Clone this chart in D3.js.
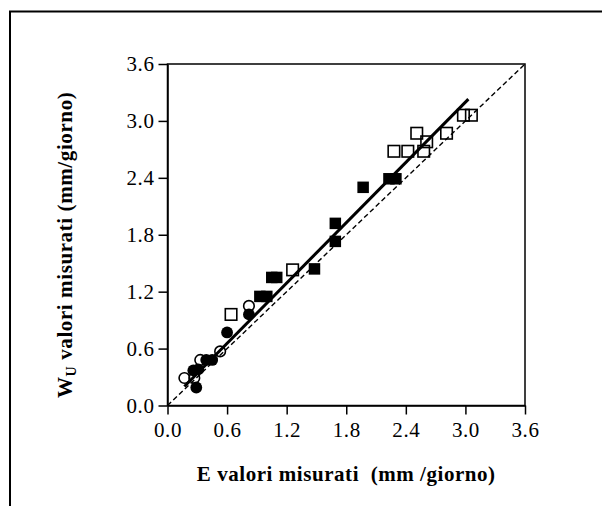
<!DOCTYPE html>
<html>
<head>
<meta charset="utf-8">
<script src="https://cdn.jsdelivr.net/npm/d3@7"></script>
<style>
  html, body { margin: 0; padding: 0; background: #fff; }
  svg { display: block; }
</style>
</head>
<body>
<svg id="chart" width="602" height="506"></svg>
<script>
// ---- data ----
const xTickValues = [0.0, 0.6, 1.2, 1.8, 2.4, 3.0, 3.6];
const yTickValues = [0.0, 0.6, 1.2, 1.8, 2.4, 3.0, 3.6];

const filledCirclesX = [0.29, 0.26, 0.31, 0.39, 0.45, 0.60, 0.82];
const filledCirclesY = [0.19, 0.37, 0.38, 0.48, 0.48, 0.77, 0.96];

const openCirclesX = [0.17, 0.27, 0.33, 0.53, 0.82];
const openCirclesY = [0.29, 0.29, 0.48, 0.57, 1.05];

const filledSquaresX = [0.93, 1.00, 1.05, 1.10, 1.48, 1.69, 1.69, 1.97, 2.23, 2.30];
const filledSquaresY = [1.15, 1.15, 1.35, 1.35, 1.44, 1.73, 1.92, 2.30, 2.39, 2.39];

const openSquaresX = [0.64, 1.26, 2.28, 2.42, 2.58, 2.61, 2.51, 2.81, 2.98, 3.06];
const openSquaresY = [0.96, 1.43, 2.68, 2.68, 2.68, 2.78, 2.87, 2.87, 3.06, 3.06];

const fitLineX = [0.17, 3.03];
const fitLineY = [0.20, 3.23];

const identityX = [0.0, 3.6];
const identityY = [0.0, 3.6];

const xTitle = "E valori misurati  (mm /giorno)";
const yTitleMain = "W";
const yTitleSub = "U";
const yTitleRest = " valori misurati (mm/giorno)";

// ---- layout ----
const svg = d3.select("#chart");
const pLeft = 167.5, pRight = 525, pTop = 64, pBottom = 405.5;
const x = d3.scaleLinear().domain([0, 3.6]).range([pLeft, pRight]);
const y = d3.scaleLinear().domain([0, 3.6]).range([pBottom, pTop]);
const font = "'Liberation Serif', 'Times New Roman', serif";

// outer frame
svg.append("path")
  .attr("d", "M10,520 V11.5 H620")
  .attr("fill", "none").attr("stroke", "#000").attr("stroke-width", 2);

// plot box
svg.append("rect")
  .attr("x", pLeft).attr("y", pTop)
  .attr("width", pRight - pLeft).attr("height", pBottom - pTop)
  .attr("fill", "none").attr("stroke", "#000").attr("stroke-width", 1.5);

// axes
const fmt = d3.format(".1f");
const xAxis = svg.append("g")
  .attr("transform", `translate(0,${pBottom})`)
  .call(d3.axisBottom(x).tickValues(xTickValues).tickFormat(fmt)
        .tickSize(9).tickSizeOuter(0).tickPadding(8));
const yAxis = svg.append("g")
  .attr("transform", `translate(${pLeft},0)`)
  .call(d3.axisLeft(y).tickValues(yTickValues).tickFormat(fmt)
        .tickSize(9).tickSizeOuter(0).tickPadding(4));
[xAxis, yAxis].forEach(g => {
  g.select(".domain").attr("stroke", "#000").attr("stroke-width", 1.5);
  g.selectAll(".tick line").attr("stroke", "#000").attr("stroke-width", 1.5);
  g.selectAll(".tick text")
    .attr("fill", "#000")
    .style("font-family", font)
    .style("font-size", "21px")
    .style("letter-spacing", "0.6px");
});

// lines
const lineGen = d3.line().x(d => x(d[0])).y(d => y(d[1]));
svg.append("path")
  .datum(identityX.map((v, i) => [v, identityY[i]]))
  .attr("d", lineGen)
  .attr("fill", "none").attr("stroke", "#000")
  .attr("stroke-width", 1.4).attr("stroke-dasharray", "5,3");

svg.append("path")
  .datum(fitLineX.map((v, i) => [v, fitLineY[i]]))
  .attr("d", lineGen)
  .attr("fill", "none").attr("stroke", "#000")
  .attr("stroke-width", 3);

// markers
const sq = 11.5, r = 5.3;
function pts(xs, ys) { return xs.map((v, i) => ({x: v, y: ys[i]})); }

svg.append("g").selectAll("rect")
  .data(pts(openSquaresX, openSquaresY)).join("rect")
  .attr("x", d => x(d.x) - sq / 2).attr("y", d => y(d.y) - sq / 2)
  .attr("width", sq).attr("height", sq)
  .attr("fill", "none").attr("stroke", "#000").attr("stroke-width", 1.6);

svg.append("g").selectAll("circle")
  .data(pts(openCirclesX, openCirclesY)).join("circle")
  .attr("cx", d => x(d.x)).attr("cy", d => y(d.y)).attr("r", r)
  .attr("fill", "none").attr("stroke", "#000").attr("stroke-width", 1.6);

svg.append("g").selectAll("rect")
  .data(pts(filledSquaresX, filledSquaresY)).join("rect")
  .attr("x", d => x(d.x) - sq / 2).attr("y", d => y(d.y) - sq / 2)
  .attr("width", sq).attr("height", sq)
  .attr("fill", "#000");

svg.append("g").selectAll("circle")
  .data(pts(filledCirclesX, filledCirclesY)).join("circle")
  .attr("cx", d => x(d.x)).attr("cy", d => y(d.y)).attr("r", r + 0.6)
  .attr("fill", "#000");

// titles
svg.append("text")
  .attr("x", (pLeft + pRight) / 2).attr("y", 481)
  .attr("text-anchor", "middle")
  .attr("xml:space", "preserve")
  .style("white-space", "pre")
  .style("font-family", font).style("font-weight", "bold")
  .style("font-size", "21px").style("letter-spacing", "0.55px")
  .text(xTitle);

const yt = svg.append("text")
  .attr("transform", "translate(72,398) rotate(-90)")
  .attr("text-anchor", "start")
  .style("font-family", font).style("font-weight", "bold")
  .style("font-size", "21px").style("letter-spacing", "0.6px");
yt.append("tspan").text(yTitleMain);
yt.append("tspan").attr("dy", 4).style("font-size", "14px").text(yTitleSub);
yt.append("tspan").attr("dy", -4).text(yTitleRest);
</script>
</body>
</html>
